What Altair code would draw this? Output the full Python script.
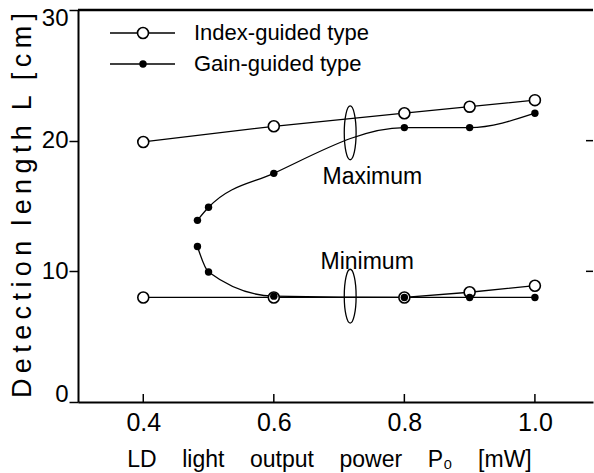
import altair as alt
import pandas as pd

# ---- data ----
idx_max_x = [0.4, 0.6, 0.8, 0.9, 1.0]
idx_max_y = [19.9, 21.1, 22.1, 22.6, 23.1]
idx_min_x = [0.4, 0.6, 0.8, 0.9, 1.0]
idx_min_y = [8.0, 8.0, 8.0, 8.4, 8.9]
gain_max_x = [0.483, 0.5, 0.6, 0.8, 0.9, 1.0]
gain_max_y = [13.9, 14.9, 17.5, 21.0, 21.0, 22.1]
gain_min_x = [0.483, 0.5, 0.6, 0.8, 0.9, 1.0]
gain_min_y = [11.9, 9.95, 8.1, 8.0, 8.0, 8.0]
x_ticks = [0.4, 0.6, 0.8, 1.0]
y_ticks = [0, 10, 20, 30]
right_ticks = [10, 20]
ann_text = ["Maximum", "Minimum"]
ann_x = [0.751, 0.743]
ann_y = [17.2, 10.7]
ell_x = [0.717, 0.717]
ell_y = [20.6, 8.1]
legend_labels = ["Index-guided type", "Gain-guided type"]

W, H = 515, 392
X_DOM = [0.3, 1.089]
Y_DOM = [0, 30]
FONT = "Liberation Sans"
NB = "\u00a0"
TS = "\u2009"

idx_df = pd.DataFrame({
    "x": idx_max_x + idx_min_x,
    "y": idx_max_y + idx_min_y,
    "branch": ["max"] * len(idx_max_x) + ["min"] * len(idx_min_x),
})
gain_df = pd.DataFrame({
    "x": gain_max_x + gain_min_x,
    "y": gain_max_y + gain_min_y,
    "branch": ["max"] * len(gain_max_x) + ["min"] * len(gain_min_x),
})
ann_df = pd.DataFrame({"x": ann_x, "y": ann_y, "t": ann_text})
ell_df = pd.DataFrame({"x": ell_x, "y": ell_y})
xt_df = pd.DataFrame({"x": x_ticks})
rt_df = pd.DataFrame({"y": right_ticks})
one = pd.DataFrame({"a": [0]})

xs = alt.Scale(domain=X_DOM, nice=False, zero=False)
ys = alt.Scale(domain=Y_DOM, nice=False)

x_title = (NB * 4).join(["LD", "light", "output", "power", "P\u2080", "[mW]"])
y_title = (NB * 2).join(TS.join(list(w)) for w in ["Detection", "length", "L", "[cm]"])

x_axis = alt.Axis(
    values=x_ticks, format=".1f", grid=False, tickSize=0,
    labelFontSize=25, labelFont=FONT, labelColor="black", labelPadding=8,
    domainColor="black", domainWidth=2,
    title=x_title,
    titleFont=FONT, titleFontSize=23, titleFontWeight="normal", titleColor="black",
    titleX=251, titleY=57, titleAlign="center", titleBaseline="middle",
)
y_axis = alt.Axis(
    values=y_ticks, grid=False, tickSize=9, tickWidth=1.5, tickColor="black",
    labelFontSize=24, labelFont=FONT, labelColor="black", labelPadding=1,
    labelFlush=True, labelFlushOffset=4,
    domainColor="black", domainWidth=2,
    title=y_title,
    titleFont=FONT, titleFontSize=27, titleFontWeight="normal", titleColor="black",
    titleX=-56, titleY=H / 2 - 1, titleAlign="center", titleBaseline="middle", titleAngle=-90,
)

base_axes = alt.Chart(idx_df).mark_line(color="black", strokeWidth=1.3).encode(
    x=alt.X("x:Q", scale=xs, axis=x_axis),
    y=alt.Y("y:Q", scale=ys, axis=y_axis),
    detail="branch:N",
)

gain_line = alt.Chart(gain_df).mark_line(
    color="black", strokeWidth=1.3, interpolate="monotone"
).encode(
    x=alt.X("x:Q", scale=xs), y=alt.Y("y:Q", scale=ys), detail="branch:N"
)

idx_pts = alt.Chart(idx_df).mark_point(
    shape="circle", size=120, fill="white", fillOpacity=1, stroke="black",
    strokeWidth=1.6, opacity=1
).encode(x=alt.X("x:Q", scale=xs), y=alt.Y("y:Q", scale=ys))

gain_pts = alt.Chart(gain_df).mark_circle(size=55, color="black", opacity=1).encode(
    x=alt.X("x:Q", scale=xs), y=alt.Y("y:Q", scale=ys)
)

ellipse_path = "M 0 -1 A 0.22 1 0 1 1 0 1 A 0.22 1 0 1 1 0 -1 Z"
ellipses = alt.Chart(ell_df).mark_point(
    shape=ellipse_path, size=2900, filled=False, stroke="black", strokeWidth=1.3, opacity=1
).encode(x=alt.X("x:Q", scale=xs), y=alt.Y("y:Q", scale=ys))

anns = alt.Chart(ann_df).mark_text(
    font=FONT, fontSize=23, color="black", align="center", baseline="middle"
).encode(x=alt.X("x:Q", scale=xs), y=alt.Y("y:Q", scale=ys), text="t:N")

xticks_in = alt.Chart(xt_df).mark_rule(color="black", strokeWidth=1.5).encode(
    x=alt.X("x:Q", scale=xs), y=alt.value(H), y2=alt.value(H - 8)
)
rticks = alt.Chart(rt_df).mark_rule(color="black", strokeWidth=1.5).encode(
    y=alt.Y("y:Q", scale=ys), x=alt.value(W - 7), x2=alt.value(W)
)
top_border = alt.Chart(one).mark_rule(color="black", strokeWidth=2.5).encode(
    x=alt.value(0), x2=alt.value(W), y=alt.value(0)
)

# legend (manual, inside plot)
leg_layers = []
for i, lab in enumerate(legend_labels):
    ly = 23 + 31 * i
    leg_layers.append(alt.Chart(one).mark_rule(color="black", strokeWidth=1.3).encode(
        x=alt.value(32), x2=alt.value(97), y=alt.value(ly)))
    if i == 0:
        leg_layers.append(alt.Chart(one).mark_point(
            shape="circle", size=120, fill="white", fillOpacity=1, stroke="black",
            strokeWidth=1.6, opacity=1).encode(x=alt.value(65), y=alt.value(ly)))
    else:
        leg_layers.append(alt.Chart(one).mark_circle(size=55, color="black", opacity=1).encode(
            x=alt.value(65), y=alt.value(ly)))
    leg_layers.append(alt.Chart(one).mark_text(
        font=FONT, fontSize=22, color="black", align="left", baseline="middle"
    ).encode(x=alt.value(116), y=alt.value(ly), text=alt.value(lab)))

chart = alt.layer(
    base_axes, gain_line, idx_pts, gain_pts, ellipses, anns,
    xticks_in, rticks, top_border, *leg_layers
).properties(
    width=W, height=H,
    autosize=alt.AutoSizeParams(type="none"),
    padding={"left": 78, "top": 10, "right": 1, "bottom": 71},
    background="white",
).configure_view(stroke=None)

chart.save("out.html", embed_options={"renderer": "svg", "actions": False})
